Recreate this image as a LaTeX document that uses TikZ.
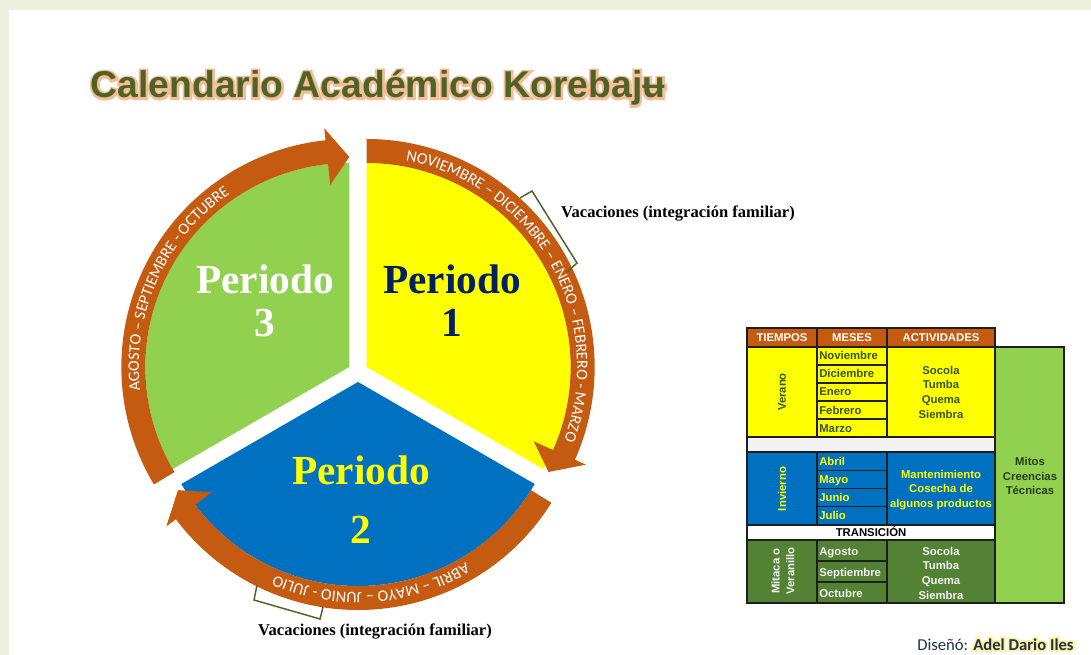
\documentclass[tikz,border=0pt]{standalone}
\usepackage{fontspec}
\usetikzlibrary{calc,decorations.text}
\setmainfont{Liberation Serif}
\newfontfamily\sansfont{Liberation Sans}
\newfontfamily\sansglow[BoldFeatures={FakeBold=12}]{Liberation Sans}
\newfontfamily\calfont{Carlito}
\newfontfamily\calglow[BoldFeatures={FakeBold=22}]{Carlito}
\definecolor{framegreen}{HTML}{EBF1DE}
\definecolor{ringorange}{HTML}{C55A11}
\definecolor{pieyellow}{HTML}{FFFF00}
\definecolor{pieblue}{HTML}{0070C0}
\definecolor{piegreen}{HTML}{92D050}
\definecolor{navy}{HTML}{002060}
\definecolor{titlegreen}{HTML}{4F6228}
\definecolor{titleglow}{HTML}{F6BE96}
\definecolor{mitaca}{HTML}{548235}
\definecolor{cellgray}{HTML}{F2F2F2}
\definecolor{darktext}{HTML}{375623}
\definecolor{tabline}{HTML}{1E1E1E}
\definecolor{signblue}{HTML}{1F3050}
\definecolor{signglow}{HTML}{FFF3A0}
\newcommand{\arcfont}{\calfont\fontsize{12}{14}\selectfont}
% orange ring arrow: vertex, tail angle, head angle, tip angle
\newcommand{\ringarrow}[4]{%
  \fill[ringorange] ($(#1)+(#2:204)$) arc[start angle=#2,end angle=#3,radius=204]
    -- ($(#1)+(#3:183)$) -- ($(#1)+(#4:210)$) -- ($(#1)+(#3:240)$)
    -- ($(#1)+(#3:228)$) arc[start angle=#3,end angle=#2,radius=228] -- cycle;}
% white month text on the ring
\newcommand{\ringtext}[4]{%
  \path[decorate,decoration={text along path,text align=center,text color=white,
    text={|\arcfont|#4}}] ($(#1)+(#2:210.5)$) arc[start angle=#2,end angle=#3,radius=210.5];}
\begin{document}
\begin{tikzpicture}[x=0.75pt,y=0.75pt,
  titlefont/.style={font=\sansfont\bfseries\fontsize{28}{32}\selectfont,text=titlegreen,inner sep=0,anchor=base},
  periodfont/.style={font=\bfseries\fontsize{31}{36}\selectfont,inner sep=0,anchor=base},
  vacfont/.style={font=\bfseries\fontsize{12.4}{14}\selectfont,inner sep=0,anchor=base},
  tabfont/.style={font=\sansfont\bfseries\fontsize{8.5}{11}\selectfont,inner sep=0},
  cellline/.style={draw=tabline,line width=1.1pt},
  bracket/.style={draw=titlegreen,line width=1.1pt},
  signfont/.style={font=\calfont\fontsize{12.5}{14}\selectfont,text=signblue,inner sep=0,anchor=base west}]
\useasboundingbox (0,0) rectangle (1091,-655);
\fill[framegreen] (0,0) rectangle (1091,-655);
\fill[white] (9,-10) rectangle (1091,-655);

% title with glow
\node[titlefont,font=\sansglow\bfseries\fontsize{28}{32}\selectfont,text=titleglow] (titleglow) at (378,-98) {Calendario Académico Korebajʉ};
\node[titlefont] (title) at (378,-98) {Calendario Académico Korebajʉ};

% pie sectors
\coordinate (ylwc) at (366.66,-367);
\coordinate (bluc) at (358,-382);
\coordinate (grnc) at (349.34,-367);
\fill[pieyellow] (ylwc) -- ($(ylwc)+(90:204)$) arc[start angle=90,end angle=-30,radius=204] -- cycle;
\fill[pieblue] (bluc) -- ($(bluc)+(-30:204)$) arc[start angle=-30,end angle=-150,radius=204] -- cycle;
\fill[piegreen] (grnc) -- ($(grnc)+(90:204)$) arc[start angle=90,end angle=210,radius=204] -- cycle;

% ring arrows
\ringarrow{grnc}{211}{96}{90}
\ringarrow{ylwc}{90}{-24}{-30}
\ringarrow{bluc}{-32}{-143}{-149}
\ringtext{grnc}{210}{101}{AGOSTO – SEPTIEMBRE - OCTUBRE}
\ringtext{ylwc}{95}{-36}{NOVIEMBRE – DICIEMBRE – ENERO – FEBRERO - MARZO}
\ringtext{bluc}{-30}{-142.4}{ABRIL – MAYO – JUNIO - JULIO}

% periods
\node[periodfont,text=white] (per3) at (265,-294) {Periodo};
\node[periodfont,text=white] (num3) at (265,-337) {3};
\node[periodfont,text=navy] (per1) at (452,-294) {Periodo};
\node[periodfont,text=navy] (num1) at (452,-337) {1};
\node[periodfont,text=pieyellow] (per2) at (361,-484) {Periodo};
\node[periodfont,text=pieyellow] (num2) at (361,-543) {2};

% vacations
\draw[bracket] (520,-198) -- (532,-191) -- (577,-263) -- (567,-272);
\node[vacfont] (vacup) at (678,-218) {Vacaciones (integración familiar)};
\draw[bracket] (257,-585) -- (254,-600) -- (320,-619) -- (323,-607);
\node[vacfont] (vaclow) at (375,-635) {Vacaciones (integración familiar)};

% table
\fill[ringorange] (747,-328) rectangle (995,-347);
\fill[pieyellow] (747,-347) rectangle (995,-437);
\fill[cellgray] (747,-437) rectangle (995,-452);
\fill[pieblue] (747,-452) rectangle (995,-525);
\fill[white] (747,-525) rectangle (995,-540);
\fill[mitaca] (747,-540) rectangle (995,-603);
\fill[piegreen] (995,-347) rectangle (1064,-603);
\draw[cellline] (747,-328) rectangle (995,-603);
\draw[cellline] (995,-347) rectangle (1064,-603);
\foreach \y in {347,437,452,525,540}
  \draw[cellline] (747,-\y) -- (995,-\y);
\foreach \ya/\yb in {328/437,452/525,540/603}{
  \draw[cellline] (817,-\ya) -- (817,-\yb);
  \draw[cellline] (887,-\ya) -- (887,-\yb);}
\foreach \y in {365,383,401,419,470.25,488.5,506.75,561,582}
  \draw[cellline] (817,-\y) -- (887,-\y);
\node[tabfont,text=white,anchor=base] (htiempos) at (782,-341.5) {TIEMPOS};
\node[tabfont,text=white,anchor=base] (hmeses) at (852,-341.5) {MESES};
\node[tabfont,text=white,anchor=base] (hactiv) at (941,-341.5) {ACTIVIDADES};
\foreach \m [count=\i] in {Noviembre,Diciembre,Enero,Febrero,Marzo}
  \node[tabfont,text=darktext,anchor=base west] (ver\i) at (819,{-360-18*(\i-1)}) {\m};
\foreach \m [count=\i] in {Abril,Mayo,Junio,Julio}
  \node[tabfont,text=pieyellow,anchor=base west] (inv\i) at (819,{-465-18.25*(\i-1)}) {\m};
\foreach \m [count=\i] in {Agosto,Septiembre,Octubre}
  \node[tabfont,text=cellgray,anchor=base west] (mit\i) at (819,{-555-21*(\i-1)}) {\m};
\node[tabfont,text=darktext,rotate=90] (verano) at (782,-392) {Verano};
\node[tabfont,text=pieyellow,rotate=90] (invierno) at (782,-489) {Invierno};
\node[tabfont,text=cellgray,rotate=90,align=center] (mitacav) at (783,-571) {Mitaca o\\Veranillo};
\node[tabfont,text=darktext,align=center] (actver) at (941,-392) {Socola\\Tumba\\Quema\\Siembra};
\node[tabfont,text=pieyellow,align=center] (actinv) at (941,-490) {Mantenimiento\\Cosecha de\\algunos productos};
\node[tabfont,text=cellgray,align=center] (actmit) at (941,-573) {Socola\\Tumba\\Quema\\Siembra};
\node[tabfont,text=black,anchor=base] (transic) at (871,-536) {TRANSICIÓN};
\node[tabfont,text=darktext!70!black,align=center] (mitos) at (1030,-476) {Mitos\\Creencias\\Técnicas};

% signature
\node[signfont] (signby) at (917,-650) {Diseñó:};
\node[signfont,font=\calglow\bfseries\fontsize{12.5}{14}\selectfont,text=signglow] (signglow) at (973,-650) {Adel Dario Iles};
\node[signfont,font=\calfont\bfseries\fontsize{12.5}{14}\selectfont] (signname) at (973,-650) {Adel Dario Iles};
\end{tikzpicture}
\end{document}
